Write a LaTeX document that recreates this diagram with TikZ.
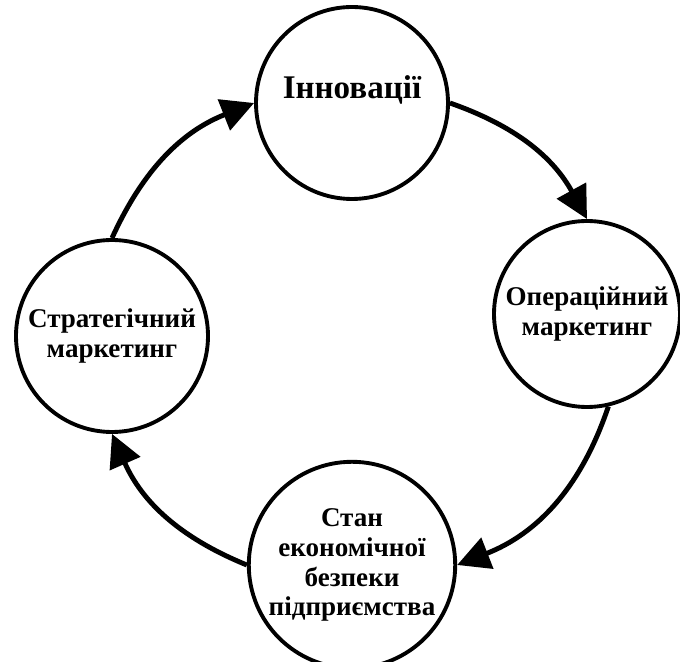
\documentclass[tikz,border=0pt]{standalone}
\usepackage{fontspec}
\setmainfont{Liberation Serif}
\usepackage{tikz}
\usetikzlibrary{arrows.meta}
\tikzset{
  >={Triangle[length=6.5mm,width=6.5mm]},
  mstage/.style={circle, draw=black, line width=2.2pt, fill=white,
                 minimum size=38.4mm, inner sep=1pt, align=center,
                 font=\bfseries\fontsize{15.4}{17}\selectfont},
  mflow/.style={->, black, line width=2.8pt},
}
\begin{document}
\begin{tikzpicture}[x=1cm,y=1cm]

  \useasboundingbox (0,0) rectangle (13.6,13.22);

  % етапи циклу
  \node[mstage, font=\bfseries\fontsize{18.8}{21}\selectfont,
        text height=4.5mm, text depth=6.1mm] (innov) at (7.04,11.16) {Інновації};
  \node[mstage, minimum size=37.2mm] (oper) at (11.74,6.94) {Операційний\\маркетинг};
  \node[mstage] (secur) at (7.04,1.92) {Стан\\економічної\\безпеки\\підприємства};
  \node[mstage] (strat) at (2.24,6.50) {Стратегічний\\маркетинг};

  % зв'язки між етапами
  \draw[mflow] (innov.east) to[bend left=21] (oper.north);
  \draw[mflow] (oper.-77) to[bend left=25] (secur.east);
  \draw[mflow] (secur.west) to[bend left=22] (strat.south);
  \draw[mflow] (strat.north) to[bend left=22] (innov.west);

\end{tikzpicture}
\end{document}
